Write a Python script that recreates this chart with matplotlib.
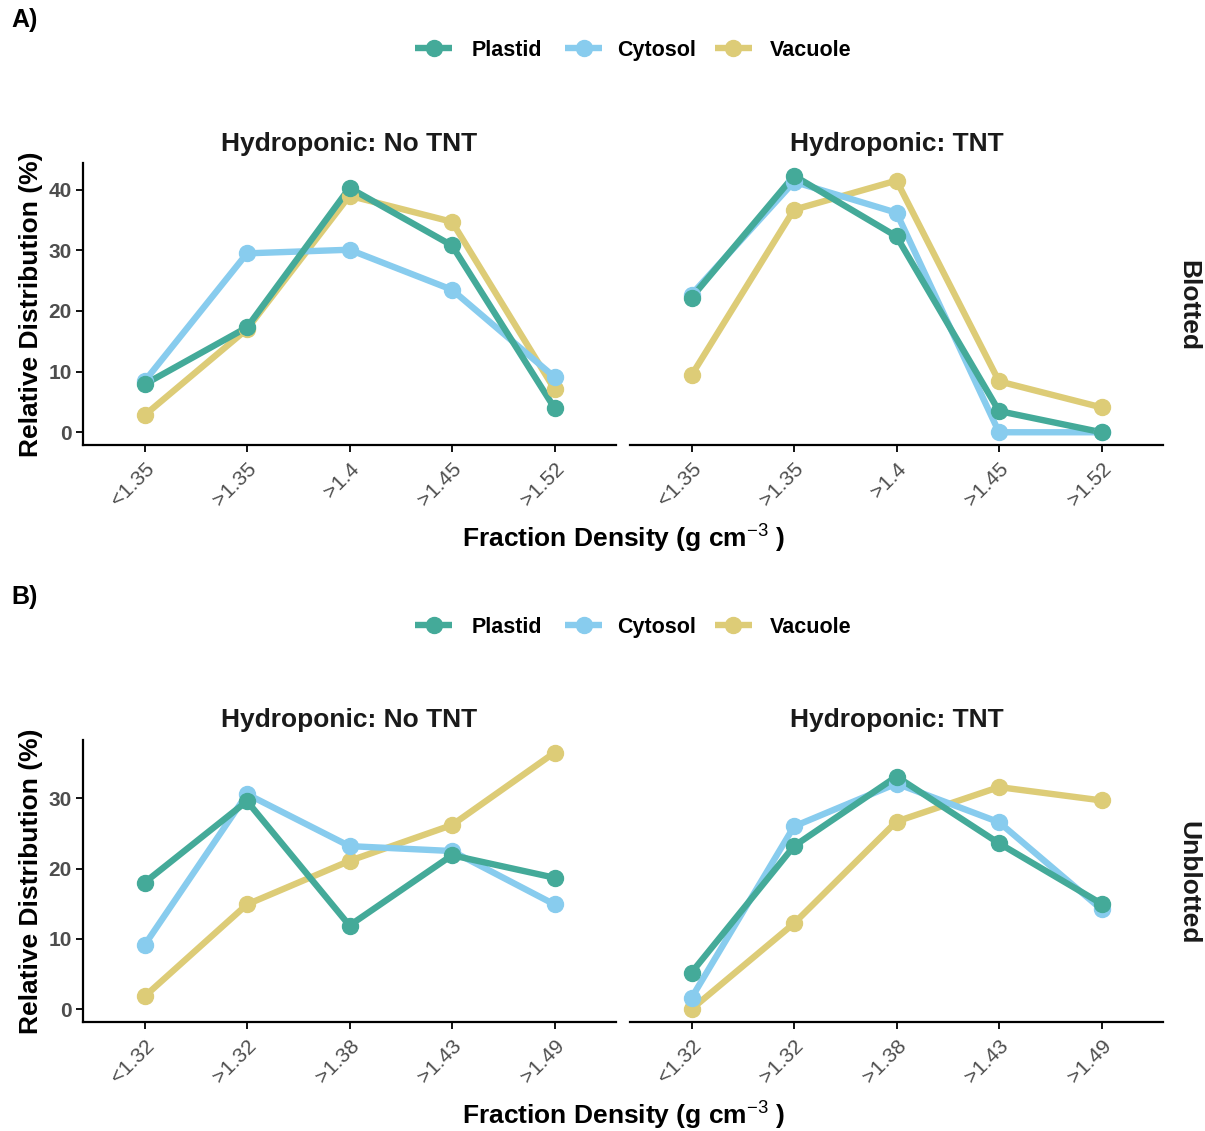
import matplotlib
matplotlib.use("Agg")
import matplotlib.pyplot as plt
from matplotlib.lines import Line2D

plt.rcParams['font.family'] = ['Liberation Sans', 'DejaVu Sans']
plt.rcParams['mathtext.fontset'] = 'custom'
plt.rcParams['mathtext.rm'] = 'Liberation Sans'
plt.rcParams['mathtext.bf'] = 'Liberation Sans:bold'

# ------------------ data ------------------ #
series = ["Plastid", "Cytosol", "Vacuole"]
colors = {"Plastid": "#44AA99", "Cytosol": "#88CCEE", "Vacuole": "#DDCC77"}

cats_a = ["<1.35", ">1.35", ">1.4", ">1.45", ">1.52"]
cats_b = ["<1.32", ">1.32", ">1.38", ">1.43", ">1.49"]

# A) Blotted
a_notnt_plastid = [7.9, 17.3, 40.3, 30.8, 4.0]
a_notnt_cytosol = [8.4, 29.5, 30.1, 23.5, 9.1]
a_notnt_vacuole = [2.8, 17.0, 39.0, 34.7, 7.1]
a_tnt_plastid = [22.2, 42.3, 32.3, 3.5, 0.0]
a_tnt_cytosol = [22.7, 41.3, 36.2, 0.0, 0.0]
a_tnt_vacuole = [9.4, 36.7, 41.5, 8.4, 4.1]

# B) Unblotted
b_notnt_plastid = [18.0, 29.6, 11.9, 21.9, 18.7]
b_notnt_cytosol = [9.1, 30.6, 23.2, 22.5, 14.9]
b_notnt_vacuole = [1.8, 14.9, 21.1, 26.2, 36.5]
b_tnt_plastid = [5.2, 23.2, 33.1, 23.6, 15.0]
b_tnt_cytosol = [1.6, 26.0, 32.1, 26.6, 14.2]
b_tnt_vacuole = [0.0, 12.2, 26.7, 31.6, 29.7]

W, H = 1205, 1131
fig = plt.figure(figsize=(W / 100, H / 100), dpi=100)

TITLE_SIZE = 19


def fx(px):
    return px / W


def fy(py):
    return 1 - py / H


def draw_panel(ax, cats, data, ylim, yticks, show_y):
    x = list(range(len(cats)))
    # lines first, then points (vacuole at the bottom)
    for name in reversed(series):
        ax.plot(x, data[name], color=colors[name], lw=4.6, solid_capstyle='butt', zorder=2)
    for name in reversed(series):
        ax.plot(x, data[name], 'o', color=colors[name], ms=11.5, zorder=3)
    ax.set_xlim(-0.6, len(cats) - 0.4)
    ax.set_ylim(*ylim)
    ax.set_xticks(x)
    ax.set_xticklabels(cats, rotation=45, ha='right', rotation_mode='anchor',
                       color='#4D4D4D', fontsize=15)
    for s in ['top', 'right']:
        ax.spines[s].set_visible(False)
    ax.spines['bottom'].set_linewidth(1.6)
    ax.spines['left'].set_linewidth(1.6)
    ax.tick_params(axis='x', length=5, width=1.3, pad=5)
    if show_y:
        ax.set_yticks(yticks)
        ax.set_yticklabels([str(t) for t in yticks], color='#4D4D4D',
                           fontsize=15, fontweight='bold')
        ax.tick_params(axis='y', length=5, width=1.3, pad=3)
    else:
        ax.spines['left'].set_visible(False)
        ax.set_yticks([])


def draw_legend(y_px):
    # handle start, text start (pixels) for each entry
    spots = [(415, 472), (565, 617), (715, 770)]
    for name, (hx, tx) in zip(series, spots):
        yy = fy(y_px)
        fig.add_artist(Line2D([fx(hx), fx(hx + 37)], [yy, yy], color=colors[name], lw=4.6,
                              solid_capstyle='butt', transform=fig.transFigure))
        fig.add_artist(Line2D([fx(hx + 18.5)], [yy], marker='o', ms=11.5, color=colors[name],
                              transform=fig.transFigure))
        fig.text(fx(tx), yy, name, ha='left', va='center_baseline', fontsize=15.5,
                 fontweight='bold')


def draw_row(top_px, label, cats, left_data, right_data, ylim, yticks, row_name):
    h = 282
    bottom = fy(top_px + h)
    height = h / H
    ax1 = fig.add_axes([fx(83), bottom, fx(533), height])
    ax2 = fig.add_axes([fx(630), bottom, fx(533), height])
    draw_panel(ax1, cats, left_data, ylim, yticks, True)
    draw_panel(ax2, cats, right_data, ylim, yticks, False)
    ax1.set_title("Hydroponic: No TNT", fontsize=TITLE_SIZE, fontweight='bold', pad=9, color='#1A1A1A')
    ax2.set_title("Hydroponic: TNT", fontsize=TITLE_SIZE, fontweight='bold', pad=9, color='#1A1A1A')
    ax1.set_ylabel("Relative Distribution (%)", fontsize=TITLE_SIZE, fontweight='bold', labelpad=4)
    fig.text(fx(1188), fy(top_px + 143), row_name, rotation=270, ha='center', va='center',
             fontsize=TITLE_SIZE, fontweight='bold', color='#1A1A1A')
    fig.text(fx(624), fy(top_px + 375), r"Fraction Density (g cm$^{-3}$ )", ha='center',
             va='center', fontsize=TITLE_SIZE, fontweight='bold')
    fig.text(fx(11), fy(top_px - 143), label, ha='left', va='center', fontsize=18,
             fontweight='bold')
    draw_legend(top_px - 115)


def pack(p, c, v):
    return {"Plastid": p, "Cytosol": c, "Vacuole": v}


draw_row(163, "A)", cats_a,
         pack(a_notnt_plastid, a_notnt_cytosol, a_notnt_vacuole),
         pack(a_tnt_plastid, a_tnt_cytosol, a_tnt_vacuole),
         (-2.1, 44.4), [0, 10, 20, 30, 40], "Blotted")
draw_row(740, "B)", cats_b,
         pack(b_notnt_plastid, b_notnt_cytosol, b_notnt_vacuole),
         pack(b_tnt_plastid, b_tnt_cytosol, b_tnt_vacuole),
         (-1.83, 38.3), [0, 10, 20, 30], "Unblotted")

fig.savefig("out.png", dpi=100)
